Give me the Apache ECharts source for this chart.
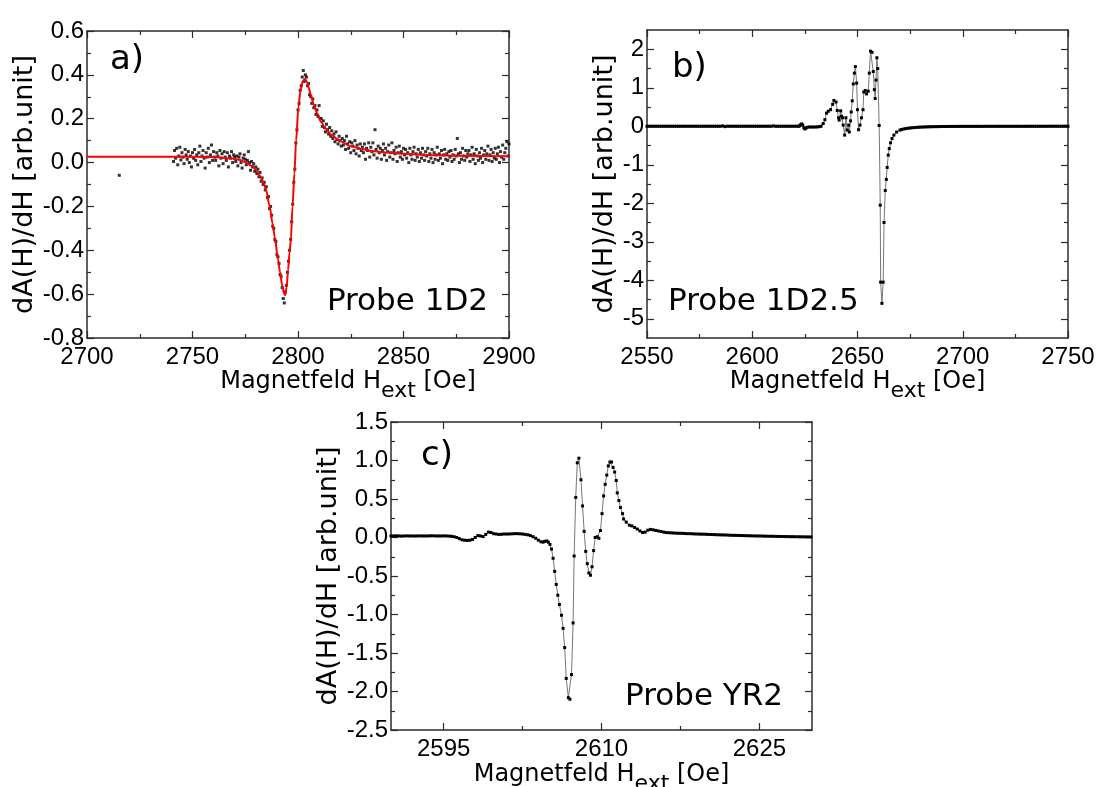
<!DOCTYPE html>
<html>
<head>
<meta charset="utf-8">
<script src="https://cdn.jsdelivr.net/npm/echarts@6/dist/echarts.min.js"></script>
<style>
  html, body { margin: 0; padding: 0; background: #ffffff; }
  #chart { width: 1101px; height: 787px; }
</style>
</head>
<body>
<div id="chart"></div>
<script>
// ---------- Probe 1D2: measured points ----------
const fieldA = [
  2715.3,
  2741,2741.5,2742,2742.5,2743,2743.5,2744,2744.5,2745,2745.5,2746,2746.5,2747,2747.5,2748,2748.5,2749,2749.5,2750,2750.5,
  2751,2751.5,2752,2752.5,2753,2753.5,2754,2754.5,2755,2755.5,2756,2756.5,2757,2757.5,2758,2758.5,2759,2759.5,2760,2760.5,
  2761,2761.5,2762,2762.5,2763,2763.5,2764,2764.5,2765,2765.5,2766,2766.5,2767,2767.5,2768,2768.5,2769,2769.5,2770,2770.5,
  2771,2771.5,2772,2772.5,2773,2773.5,2774,2774.5,2775,2775.5,2776,2776.5,2777,2777.5,2778,2778.5,2779,2779.5,2780,2780.5,
  2781,2781.5,2782,2782.5,2783,2783.5,2784,2784.5,2785,2785.5,2786,2786.5,2787,2787.5,2788,2788.5,2789,2789.5,2790,2790.5,
  2791,2791.5,2792,2792.5,2793,2793.5,2794,2794.5,2795,2795.5,2796,2796.5,2797,2797.5,2798,2798.5,2799,2799.5,2800,2800.5,
  2801,2801.5,2802,2802.5,2803,2803.5,2804,2804.5,2805,2805.5,2806,2806.5,2807,2807.5,2808,2808.5,2809,2809.5,2810,2810.5,
  2811,2811.5,2812,2812.5,2813,2813.5,2814,2814.5,2815,2815.5,2816,2816.5,2817,2817.5,2818,2818.5,2819,2819.5,2820,2820.5,
  2821,2821.5,2822,2822.5,2823,2823.5,2824,2824.5,2825,2825.5,2826,2826.5,2827,2827.5,2828,2828.5,2829,2829.5,2830,2830.5,
  2831,2831.5,2832,2832.5,2833,2833.5,2834,2834.5,2835,2835.5,2836,2836.5,2837,2837.5,2838,2838.5,2839,2839.5,2840,2840.5,
  2841,2841.5,2842,2842.5,2843,2843.5,2844,2844.5,2845,2845.5,2846,2846.5,2847,2847.5,2848,2848.5,2849,2849.5,2850,2850.5,
  2851,2851.5,2852,2852.5,2853,2853.5,2854,2854.5,2855,2855.5,2856,2856.5,2857,2857.5,2858,2858.5,2859,2859.5,2860,2860.5,
  2861,2861.5,2862,2862.5,2863,2863.5,2864,2864.5,2865,2865.5,2866,2866.5,2867,2867.5,2868,2868.5,2869,2869.5,2870,2870.5,
  2871,2871.5,2872,2872.5,2873,2873.5,2874,2874.5,2875,2875.5,2876,2876.5,2877,2877.5,2878,2878.5,2879,2879.5,2880,2880.5,
  2881,2881.5,2882,2882.5,2883,2883.5,2884,2884.5,2885,2885.5,2886,2886.5,2887,2887.5,2888,2888.5,2889,2889.5,2890,2890.5,
  2891,2891.5,2892,2892.5,2893,2893.5,2894,2894.5,2895,2895.5,2896,2896.5,2897,2897.5,2898,2898.5,2899,2899.5,2900
];
const valueA = [
  -0.058,
  0.005,0.055,0.02,0.065,-0.01,0.03,0.07,0.012,0.045,0.025,-0.005,0.06,0.035,0.015,0.05,0.0,0.03,-0.02,0.045,0.02,
  0.06,0.01,0.035,-0.01,0.045,0.075,0.005,0.03,0.055,0.02,-0.025,0.045,0.025,0.065,0.0,0.035,0.08,0.01,0.05,0.025,
  0.01,0.045,0.03,-0.015,0.055,0.02,0.04,-0.005,0.05,0.025,0.01,0.045,-0.02,0.03,0.02,0.05,0.0,0.035,0.025,0.005,
  0.03,-0.015,0.025,0.04,0.0,-0.025,0.02,0.035,0.015,-0.01,0.01,0.05,0.0,-0.035,0.005,-0.02,-0.005,-0.04,-0.02,-0.05,
  -0.03,-0.065,-0.045,-0.085,-0.07,-0.1,-0.09,-0.125,-0.11,-0.16,-0.155,-0.21,-0.2,-0.24,-0.29,-0.3,-0.35,-0.36,-0.42,-0.43,
  -0.46,-0.51,-0.52,-0.57,-0.62,-0.64,-0.59,-0.56,-0.5,-0.45,-0.4,-0.35,-0.27,-0.19,-0.09,-0.03,0.09,0.15,0.24,0.27,
  0.33,0.35,0.39,0.42,0.37,0.4,0.39,0.35,0.36,0.31,0.3,0.27,0.29,0.25,0.26,0.22,0.24,0.21,0.26,0.2,
  0.2,0.165,0.19,0.16,0.14,0.175,0.15,0.13,0.16,0.12,0.145,0.11,0.13,0.095,0.14,0.105,0.085,0.12,0.1,0.075,
  0.11,0.08,0.1,0.06,0.12,0.085,0.065,0.095,0.045,0.09,0.075,0.055,0.1,0.04,0.08,0.065,0.03,0.085,0.055,0.07,
  0.045,0.085,0.015,0.065,0.055,0.09,0.025,0.07,0.05,0.09,0.035,0.15,0.06,0.02,0.075,0.045,0.065,0.015,0.055,0.085,
  0.035,0.065,0.01,0.05,0.08,0.025,0.045,0.09,0.015,0.055,0.04,0.07,0.005,0.045,0.075,0.025,0.05,0.015,0.065,0.035,
  0.06,0.02,0.045,0.0,0.065,0.035,0.015,0.05,0.07,0.01,0.04,0.025,0.06,0.005,0.045,0.02,0.065,0.035,0.01,0.05,
  0.03,0.065,0.005,0.04,0.02,0.06,0.0,0.045,0.015,0.035,0.07,0.01,0.04,0.02,0.055,-0.005,0.035,0.06,0.015,0.04,
  0.01,0.05,0.025,0.055,0.005,0.035,0.015,0.06,0.03,0.11,0.04,0.0,0.045,0.015,0.065,0.03,0.01,0.055,0.025,0.04,
  0.055,0.005,0.035,0.07,0.015,0.04,-0.005,0.06,0.03,0.01,0.045,0.02,0.065,0.0,0.035,0.055,0.015,0.04,0.075,0.01,
  0.035,0.06,0.005,0.045,0.02,0.065,0.015,0.04,0.07,0.0,0.05,0.025,0.08,0.015,0.045,0.065,0.095,0.03,0.085
];

// ---------- Probe 1D2: fitted line ----------
const fitFieldA = [2700,2740,2760,2768,2772,2775,2778,2780,2782,2783.6,2785,2786.5,2788,2789,2790.5,2791.5,2792.5,2793.3,2793.9,
  2794.6,2795.3,2796,2796.6,2797.4,2798.3,2799.1,2800.2,2801.2,2802.2,2803.3,2804.2,2805,2806,2807.5,2809,2811,2813,2816,
  2820,2825,2830,2835,2840,2850,2860,2875,2900];
const fitValueA = [0.027,0.027,0.025,0.02,0.013,0.003,-0.015,-0.032,-0.06,-0.09,-0.13,-0.197,-0.28,-0.34,-0.44,-0.5,-0.56,-0.595,-0.605,
  -0.57,-0.49,-0.41,-0.354,-0.2,-0.05,0.1,0.253,0.33,0.37,0.382,0.37,0.345,0.31,0.265,0.225,0.185,0.155,0.125,
  0.097,0.075,0.062,0.053,0.047,0.04,0.035,0.031,0.029];

// ---------- Probe 1D2.5 ----------
const fieldB = [
  2550,2551,2552,2553,2554,2555,2556,2557,2558,2559,2560,2561,2562,2563,2564,2565,2566,2567,2568,2569,
  2570,2571,2572,2573,2574,2575,2576,2577,2578,2579,2580,2581,2582,2583,2584,2585,2586,2587,2588,2589,
  2590,2591,2592,2593,2594,2595,2596,2597,2598,2599,2600,2601,2602,2603,2604,2605,2606,2607,2608,2609,
  2610,2611,2612,2613,2614,2615,2616,2617,2618,2619,2620,2621,
  2622,2622.5,2623,2623.5,2624,2624.5,2625,2625.5,2626,2627,2628,2629,2630,2631,2632,2632.7,
  2633.7,2634.5,2635.3,2636.1,2637.2,2638.2,2638.8,2639.8,2640.4,2641,2641.3,2642,2642.4,2642.9,2643.2,2643.9,
  2644.5,2645.1,2645.8,2646.1,2646.7,2647,2647.5,2648,2648.5,2649,2649.6,2650,2650.5,2651.2,2651.9,2652.6,
  2653,2653.7,2654.3,2655.1,2655.6,2656.2,2656.9,2657.5,2658,2658.4,2658.8,2659.2,2659.6,2660.3,2660.8,2661,
  2661.6,2662.2,2662.6,2663.2,2663.7,2664.1,2664.6,2665.1,2665.7,2666.4,2667.3,2668.6,2670.2,
  2671,2672,2673,2674,2675,2676,2677,2678,2679,2680,2681,2682,2683,2684,2685,2686,2687,2688,2689,2690,
  2691,2692,2693,2694,2695,2696,2697,2698,2699,2700,2701,2702,2703,2704,2705,2706,2707,2708,2709,2710,
  2711,2712,2713,2714,2715,2716,2717,2718,2719,2720,2721,2722,2723,2724,2725,2726,2727,2728,2729,2730,
  2731,2732,2733,2734,2735,2736,2737,2738,2739,2740,2741,2742,2743,2744,2745,2746,2747,2748,2749,2750
];
const valueB = [
  0,0,0,0,0,0,0,0,0,0,0,0,0,0,0,0,0,0,0,0,
  0,0,0,0,0,0,0,0,0,0,0,0,0,0,0,0,0.01,-0.01,0,0,
  0,0,0,0,0,0,0,0,0,0,0,0,0,0,0,0,0,0,0,0,
  0.01,0,0,0,0,0,0,0,0,0,0,0,
  0,0.01,0.04,0.06,0.03,-0.04,-0.07,-0.05,-0.03,-0.02,-0.02,-0.02,-0.02,-0.015,-0.01,0,
  0.07,0.17,0.34,0.39,0.43,0.57,0.67,0.63,0.41,0.22,0.16,0.4,0.26,0.22,0.03,-0.23,
  0.22,-0.1,0.03,-0.15,0.14,0.37,0.66,1.1,1.38,1.55,1.12,0.43,-0.09,0.03,0.22,0.43,
  0.89,0.93,0.84,0.91,1.38,1.95,1.92,1.42,0.95,0.72,1.2,1.78,1.5,0.02,-2.05,-4.05,
  -4.6,-4.05,-2.5,-1.67,-1.38,-1.07,-0.75,-0.58,-0.43,-0.32,-0.23,-0.15,-0.1,
  -0.085,-0.07,-0.06,-0.052,-0.045,-0.039,-0.034,-0.03,-0.026,-0.023,-0.02,-0.018,-0.016,-0.014,-0.012,-0.011,-0.01,-0.009,-0.008,-0.007,
  -0.006,-0.006,-0.005,-0.005,-0.005,-0.004,-0.004,-0.004,-0.003,-0.003,-0.003,-0.003,-0.003,-0.003,-0.003,-0.003,-0.003,-0.003,-0.003,-0.003,
  -0.002,-0.002,-0.002,-0.002,-0.002,-0.002,-0.002,-0.002,-0.002,-0.002,-0.002,-0.002,-0.002,-0.002,-0.002,-0.002,-0.002,-0.002,-0.002,-0.002,
  -0.001,-0.001,-0.001,-0.001,-0.001,-0.001,-0.001,-0.001,-0.001,-0.001,0,0,0,0,0,0,0,0,0,0
];

// ---------- Probe YR2 ----------
const fieldC = [
  2590,2590.25,2590.5,2590.75,2591,2591.25,2591.5,2591.75,2592,2592.25,2592.5,2592.75,2593,2593.25,2593.5,2593.75,
  2594,2594.25,2594.5,2594.75,2595,2595.25,2595.5,2595.75,2596,2596.25,2596.5,2596.75,2597,2597.25,2597.5,2597.75,
  2598,2598.25,2598.5,2598.75,2599,2599.25,2599.5,2599.75,2600,2600.25,2600.5,2600.75,2601,2601.25,2601.5,2601.75,
  2602,2602.25,2602.5,2602.75,2603,2603.25,2603.5,2603.75,2604,2604.25,2604.45,
  2604.6,2604.8,2604.95,2605.1,2605.25,2605.4,2605.55,2605.7,2605.85,2606,2606.2,2606.35,2606.5,2606.65,2606.85,2607,
  2607.15,2607.3,2607.4,2607.55,2607.7,2607.85,2608.05,2608.2,2608.35,2608.5,2608.65,2608.8,2608.95,2609.1,2609.25,2609.4,
  2609.6,2609.75,2609.9,2610.05,2610.2,2610.35,2610.5,2610.65,2610.8,2610.95,2611.1,2611.25,2611.4,2611.5,2611.65,2611.8,
  2612,2612.1,2612.35,2612.65,
  2612.9,2613.15,2613.4,2613.65,2613.9,2614.15,2614.4,2614.65,2614.9,2615.15,2615.4,2615.65,2615.9,2616.15,2616.4,2616.65,
  2616.9,2617.15,2617.4,2617.65,2617.9,2618.15,2618.4,2618.65,2618.9,2619.15,2619.4,2619.65,2619.9,2620.15,2620.4,2620.65,
  2620.9,2621.15,2621.4,2621.65,2621.9,2622.15,2622.4,2622.65,2622.9,2623.15,2623.4,2623.65,2623.9,2624.15,2624.4,2624.65,
  2624.9,2625.15,2625.4,2625.65,2625.9,2626.15,2626.4,2626.65,2626.9,2627.15,2627.4,2627.65,2627.9,2628.15,2628.4,2628.65,
  2628.9,2629.15,2629.4,2629.65,2629.9
];
const valueC = [
  0.02,0.02,0.022,0.02,0.018,0.02,0.021,0.02,0.02,0.019,0.02,0.021,0.02,0.02,0.02,0.022,
  0.022,0.02,0.02,0.02,0.021,0.02,0.018,0.015,0.01,0.0,-0.015,-0.03,-0.035,-0.038,-0.035,-0.025,
  0.0,0.025,0.02,0.012,0.04,0.07,0.065,0.05,0.045,0.04,0.042,0.045,0.045,0.046,0.048,0.05,
  0.05,0.048,0.045,0.04,0.035,0.025,0.01,-0.01,-0.035,-0.055,-0.06,
  -0.05,-0.045,-0.06,-0.09,-0.15,-0.27,-0.44,-0.61,-0.75,-0.87,-1.01,-1.18,-1.43,-1.83,-2.08,-2.1,
  -1.78,-1.11,-0.24,0.52,0.97,1.03,0.75,0.41,0.08,-0.18,-0.34,-0.46,-0.49,-0.38,-0.17,0.0,
  0.01,-0.01,0.09,0.31,0.54,0.69,0.81,0.93,0.98,0.98,0.91,0.85,0.74,0.58,0.48,0.39,
  0.31,0.24,0.2,0.16,
  0.15,0.13,0.11,0.085,0.065,0.07,0.095,0.105,0.1,0.092,0.085,0.078,0.07,0.065,0.062,0.06,
  0.058,0.056,0.055,0.054,0.052,0.05,0.05,0.048,0.046,0.045,0.044,0.043,0.042,0.04,0.039,0.038,
  0.036,0.035,0.034,0.033,0.032,0.03,0.028,0.028,0.027,0.026,0.025,0.024,0.023,0.022,0.021,0.02,
  0.02,0.019,0.018,0.017,0.016,0.016,0.015,0.014,0.014,0.013,0.012,0.012,0.011,0.011,0.01,0.01,
  0.009,0.009,0.008,0.008,0.007
];

// ---------- axis ranges and tick values ----------
const rangeA = { x: [2700, 2900, 50], y: [-0.8, 0.6, 0.2] };
const rangeB = { x: [2550, 2750, 50], y: [-5.5, 2.5] };
const rangeC = { x: [2590, 2630], y: [-2.5, 1.5, 0.5] };
const majorTicksBy = [-5, -4, -3, -2, -1, 0, 1, 2];
const minorTicksBy = [-4.5, -3.5, -2.5, -1.5, -0.5, 0.5, 1.5];
const majorTicksCx = [2595, 2610, 2625];
const minorTicksCx = [2602.5, 2617.5];

const panelLetters = ['a)', 'b)', 'c)'];
const probeNames = ['Probe 1D2', 'Probe 1D2.5', 'Probe YR2'];
const yTitle = 'dA(H)/dH [arb.unit]';
const xTitle = '{m|Magnetfeld H}{s|ext}{m| [Oe]}';

// ---------- styling ----------
const FRAME = '#2b2b2b';
const TICK_FONT = 'Liberation Sans';
const TEXT_FONT = 'DejaVu Sans';

const zip = (xs, ys) => xs.map((x, i) => [x, ys[i]]);

const grids = [
  { left: 87, top: 31, width: 422, height: 307 },
  { left: 647, top: 30, width: 421, height: 308 },
  { left: 391, top: 422, width: 421, height: 308 }
].map(g => Object.assign({ outerBoundsMode: 'none', containLabel: false }, g));

const xTitleStyle = {
  rich: {
    m: { fontFamily: TEXT_FONT, fontSize: 24, color: '#000', lineHeight: 28, verticalAlign: 'top' },
    s: { fontFamily: TEXT_FONT, fontSize: 22, color: '#000', lineHeight: 28, verticalAlign: 'top', padding: [10, 0, 0, 0] }
  }
};

function axis(kind, grid, pos, range, opts) {
  const o = opts || {};
  const a = {
    type: 'value', gridIndex: grid, position: pos,
    min: range[0], max: range[1],
    axisLine: { show: o.line !== false, onZero: false, lineStyle: { color: FRAME, width: 1.5 } },
    axisTick: { show: true, inside: true, length: o.tickLen || 7, lineStyle: { color: FRAME, width: 1.2 } },
    minorTick: { show: !!o.minor, splitNumber: 2, length: 4, lineStyle: { color: FRAME, width: 1.2 } },
    splitLine: { show: false }, minorSplitLine: { show: false },
    axisLabel: { show: false },
    axisPointer: { show: false },
    silent: true
  };
  if (range[2] !== undefined) a.interval = range[2];
  if (o.ticks) a.axisTick.customValues = o.ticks;
  if (o.labels) {
    a.axisLabel = {
      show: true, fontFamily: TICK_FONT, fontSize: 24, color: '#000',
      margin: kind === 'x' ? 7 : 3,
      formatter: o.fmt || (v => String(v))
    };
    if (o.labelValues) a.axisLabel.customValues = o.labelValues;
  }
  if (o.name) {
    a.name = o.name;
    a.nameLocation = 'middle';
    a.nameGap = o.nameGap;
    if (kind === 'y') {
      a.nameRotate = 90;
      a.nameTextStyle = { fontFamily: TEXT_FONT, fontSize: 27, color: '#000' };
    } else {
      a.nameTextStyle = Object.assign({}, xTitleStyle, o.namePad ? { padding: o.namePad } : {});
    }
  }
  return a;
}

const fmt1 = v => v.toFixed(1);
const fmt0 = v => String(Math.round(v));

const xAxes = [
  // a)
  axis('x', 0, 'bottom', rangeA.x, { minor: true, labels: true, name: xTitle, nameGap: 32, namePad: [0, 0, 0, 100] }),
  axis('x', 0, 'top', rangeA.x, { minor: true }),
  // b)
  axis('x', 1, 'bottom', rangeB.x, { minor: true, labels: true, name: xTitle, nameGap: 32 }),
  axis('x', 1, 'top', rangeB.x, { minor: true }),
  // c)
  axis('x', 2, 'bottom', rangeC.x, { ticks: majorTicksCx, labels: true, labelValues: majorTicksCx, name: xTitle, nameGap: 33 }),
  axis('x', 2, 'top', rangeC.x, { ticks: majorTicksCx }),
  axis('x', 2, 'bottom', rangeC.x, { ticks: minorTicksCx, tickLen: 4, line: false }),
  axis('x', 2, 'top', rangeC.x, { ticks: minorTicksCx, tickLen: 4, line: false })
];
const yAxes = [
  // a)
  axis('y', 0, 'left', rangeA.y, { minor: true, labels: true, fmt: fmt1, name: yTitle, nameGap: 43 }),
  axis('y', 0, 'right', rangeA.y, { minor: true }),
  // b)
  axis('y', 1, 'left', rangeB.y, { ticks: majorTicksBy, labels: true, labelValues: majorTicksBy, fmt: fmt0, name: yTitle, nameGap: 29 }),
  axis('y', 1, 'right', rangeB.y, { ticks: majorTicksBy }),
  // c)
  axis('y', 2, 'left', rangeC.y, { minor: true, labels: true, fmt: fmt1, name: yTitle, nameGap: 48 }),
  axis('y', 2, 'right', rangeC.y, { minor: true }),
  // b) half-unit ticks
  axis('y', 1, 'left', rangeB.y, { ticks: minorTicksBy, tickLen: 4, line: false }),
  axis('y', 1, 'right', rangeB.y, { ticks: minorTicksBy, tickLen: 4, line: false })
];

const dotStyle = { symbol: 'rect', symbolSize: 3, itemStyle: { color: '#000' } };

const series = [
  Object.assign({ type: 'scatter', xAxisIndex: 0, yAxisIndex: 0, data: zip(fieldA, valueA), z: 2, silent: true }, dotStyle),
  { type: 'line', xAxisIndex: 0, yAxisIndex: 0, data: zip(fitFieldA, fitValueA), showSymbol: false, smooth: 0.3,
    smoothMonotone: 'x', lineStyle: { color: '#ff0000', width: 2 }, z: 3, silent: true },
  Object.assign({ type: 'line', xAxisIndex: 2, yAxisIndex: 2, data: zip(fieldB, valueB), showSymbol: true,
    lineStyle: { color: '#777', width: 1 }, silent: true }, dotStyle),
  Object.assign({ type: 'line', xAxisIndex: 4, yAxisIndex: 4, data: zip(fieldC, valueC), showSymbol: true,
    lineStyle: { color: '#777', width: 1 }, silent: true }, dotStyle)
];

function label(text, x, y, size, align) {
  return {
    type: 'text', x: x, y: y, silent: true,
    style: { text: text, fontFamily: TEXT_FONT, fontSize: size, fill: '#000', align: align, verticalAlign: 'middle' }
  };
}

const graphic = [
  label(panelLetters[0], 110, 60, 34, 'left'),
  label(panelLetters[1], 672, 68, 34, 'left'),
  label(panelLetters[2], 421, 456, 34, 'left'),
  label(probeNames[0], 488, 302, 31, 'right'),
  label(probeNames[1], 668, 302, 31, 'left'),
  label(probeNames[2], 783, 697, 31, 'right')
];

const chart = echarts.init(document.getElementById('chart'), null, { renderer: 'canvas' });
chart.setOption({
  animation: false,
  backgroundColor: '#ffffff',
  grid: grids,
  xAxis: xAxes,
  yAxis: yAxes,
  series: series,
  graphic: graphic
});
</script>
</body>
</html>
